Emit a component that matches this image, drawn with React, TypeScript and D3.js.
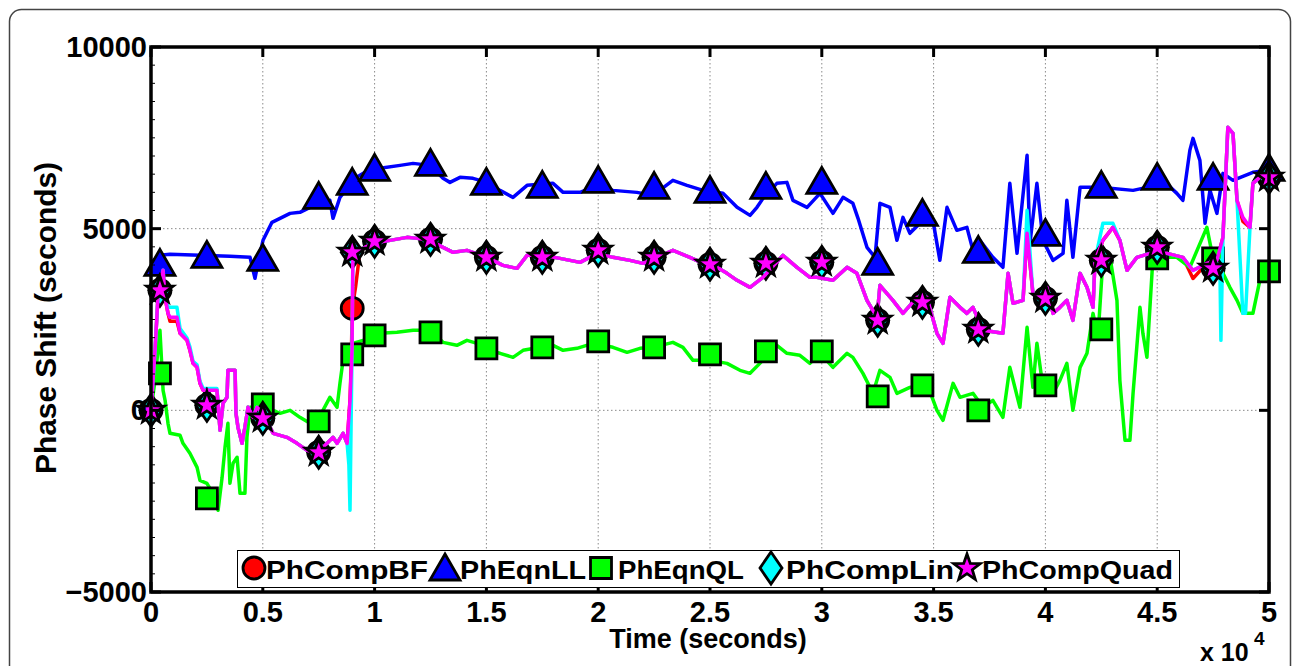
import React from "react";
import * as d3 from "d3";

type Pt = [number, number];

// time axis ticks (seconds) and labels (x 10^4)
const timeTicks = [0, 5000, 10000, 15000, 20000, 25000, 30000, 35000, 40000, 45000, 50000];
const timeTickLabels = ["0", "0.5", "1", "1.5", "2", "2.5", "3", "3.5", "4", "4.5", "5"];
const valueTicks = [-5000, 0, 5000, 10000];
const valueTickLabels = ["\u22125000", "0", "5000", "10000"];

// times where markers are drawn
const markerTimes = [0, 400, 2500, 5000, 7500, 9000, 10000, 12500, 15000, 17500, 20000, 22500, 25000, 27500, 30000, 32500, 34500, 37000, 40000, 42500, 45000, 47500, 50000];

const bfMarkers = [0, 3302, 138, -220, -1156, 2807, 4651, 4706, 4211, 4211, 4403, 4211, 4018, 4045, 4073, 2477, 2972, 2229, 3082, 4128, 4486, 3908, 6412];
const llMarkers = [null, 4045, 4266, 4183, 5889, 6274, 6660, 6797, 6274, 6192, 6330, 6164, 6054, 6164, 6302, 4073, 5420, 4403, 4871, 6192, 6412, 6412, 6660];
const qlMarkers = [null, 1018, -2422, 165, -303, 1541, 2064, 2147, 1706, 1734, 1899, 1734, 1541, 1624, 1624, 385, 688, 0, 688, 2229, 4183, 4183, 3825];
const linMarkers = [0, 3302, 138, -220, -1156, 4348, 4651, 4706, 4211, 4211, 4403, 4211, 4018, 4045, 4073, 2477, 2972, 2229, 3082, 4128, 4486, 3908, 6412];
const quadMarkers = [0, 3302, 138, -220, -1156, 4348, 4651, 4706, 4211, 4211, 4403, 4211, 4018, 4045, 4073, 2477, 2972, 2229, 3082, 4128, 4486, 3908, 6412];

const phEqnLL: Pt[] = [[0,4073],[400,4266],[850,4293],[2190,4266],[3530,4238],[4430,4211],[4650,3633],[4790,4073],[5010,4679],[5410,5174],[6220,5421],[6660,5449],[7560,5724],[8000,5779],[8140,5284],[8450,5862],[9120,6385],[9570,6550],[10240,6660],[11140,6742],[11720,6797],[12480,6742],[13060,6385],[13370,6274],[13820,6412],[14400,6385],[15030,6274],[15610,6054],[16190,5862],[16820,6192],[17980,6247],[18430,5999],[19190,5999],[19950,6192],[20660,6054],[21730,5999],[22450,5917],[23340,6330],[23970,6192],[24690,6054],[25580,5972],[26210,5587],[26790,5366],[27100,5587],[27370,5834],[27990,6247],[28440,6274],[28710,5779],[29340,5587],[29920,5972],[30500,5421],[30950,5862],[31390,5697],[31620,5284],[32020,4486],[32380,4211],[32600,5697],[33050,5587],[33360,4679],[33630,5311],[33940,4871],[34390,5146],[34970,5229],[35280,4128],[35600,5587],[36040,4954],[36490,5036],[36760,4403],[37070,4678],[37650,4211],[38100,3935],[38410,6247],[38730,4321],[39180,7018],[39310,4596],[39620,6247],[39890,4679],[40340,4128],[40790,4321],[40960,5779],[41230,4211],[41550,6137],[42440,6137],[43920,6054],[44540,6137],[45120,6412],[45880,5972],[46150,5779],[46460,7155],[46600,7485],[46910,6880],[47140,5146],[47360,6054],[47670,5421],[47940,6522],[48390,6330],[49280,6550],[50000,6605]];

const phEqnQL: Pt[] = [[0,0],[180,826],[400,2202],[540,550],[630,275],[760,-358],[850,-633],[1300,-688],[1430,-908],[1740,-1183],[2060,-1569],[2190,-1926],[2500,-2009],[2770,-2284],[3000,-2752],[3180,-1844],[3310,-1018],[3440,-358],[3530,-2009],[3670,-1459],[3850,-1293],[3980,-2284],[4200,-2284],[4290,-743],[4430,83],[4740,83],[5010,0],[5460,0],[5770,-83],[6220,0],[6660,-193],[7110,-358],[7420,-358],[7690,0],[8000,358],[8320,83],[8450,743],[8590,1376],[8770,1651],[9030,1844],[9480,1926],[10240,2119],[11000,2147],[11720,2202],[12480,2202],[13060,1871],[13680,1789],[14130,1926],[14580,1844],[15030,1651],[15610,1569],[16190,1459],[16640,1651],[17400,1734],[17980,1789],[18430,1651],[19050,1706],[19770,1844],[20660,1734],[21290,1596],[21870,1706],[22450,1734],[23340,1871],[23790,1734],[24240,1376],[25000,1376],[25760,1293],[26340,1101],[26790,1018],[27230,1293],[27990,1789],[28440,1569],[29020,1514],[29470,1293],[29920,1569],[30500,1183],[31130,1569],[31390,1459],[31840,1018],[32290,468],[32600,1101],[33050,908],[33360,468],[33940,633],[34700,743],[35150,0],[35420,-275],[35870,743],[36180,358],[36760,468],[37210,83],[37650,275],[38100,-193],[38410,1183],[38860,83],[39180,2284],[39440,633],[39620,1844],[39890,633],[40340,468],[40650,826],[40960,1293],[41230,0],[41550,1183],[41860,1569],[42130,2669],[42350,2009],[42570,4128],[42890,4211],[43200,3027],[43330,826],[43560,-826],[43780,-826],[43920,468],[44230,2835],[44360,2119],[44540,1459],[44810,4211],[45440,4211],[45880,4211],[46460,3935],[47220,5036],[47490,4211],[47810,3935],[48250,3385],[48570,3027],[48830,2669],[49280,2669],[49590,3578],[50000,3853]];

const phCompQuad: Pt[] = [[0,0],[180,1651],[310,3110],[540,3853],[630,3110],[760,2669],[850,2559],[1160,2559],[1300,2119],[1610,1926],[1740,1651],[1880,1293],[2060,1183],[2190,743],[2330,550],[2950,550],[3090,-550],[3220,193],[3400,358],[3440,1101],[3760,1101],[3800,-83],[3890,-468],[4070,-908],[4200,-468],[4340,83],[4560,-193],[4740,83],[5010,-83],[5460,-633],[6080,-743],[6530,-908],[6980,-1101],[7420,-1183],[7870,-908],[8140,-743],[8320,-908],[8590,-633],[8770,-908],[8900,275],[8990,1651],[9030,4321],[9930,4596],[10690,4678],[11450,4761],[11900,4733],[12480,4678],[13060,4486],[13510,4348],[14130,4403],[15030,4211],[15740,3990],[16370,3908],[16820,4266],[17530,4266],[18290,4183],[19190,4073],[19950,4321],[20660,4211],[21420,4128],[22000,4045],[22630,4211],[23340,4403],[24100,4211],[24690,4045],[25310,3935],[25760,3770],[26210,3578],[26790,3385],[27370,3660],[28260,4266],[28890,3935],[29470,3660],[29780,3660],[30500,3578],[31130,3935],[31570,3770],[32020,3027],[32470,2559],[32600,3440],[33180,3027],[33630,2669],[34260,3110],[34700,3110],[35150,2119],[35420,1844],[35730,3110],[36180,2835],[36490,2669],[36760,2835],[37210,2202],[38100,2119],[38330,3770],[38550,2945],[39000,3027],[39180,4871],[39440,3220],[39760,3110],[40070,3385],[40340,2669],[40650,2835],[40960,3027],[41230,2477],[41550,3770],[41860,3385],[42130,2835],[42220,4128],[42570,4678],[43020,5036],[43330,4678],[43650,3853],[44090,4211],[44680,4321],[45440,4321],[46150,4211],[46600,3853],[47220,4045],[47670,4128],[47940,4761],[48160,7788],[48390,7623],[48570,5779],[48830,5311],[49150,5036],[49280,6247],[49590,6412],[50000,6522]];

const phCompBF: Pt[] = [[0,0],[180,1651],[310,3110],[540,3853],[630,3110],[760,2669],[850,2450],[1160,2450],[1300,2119],[1610,1926],[1740,1651],[1880,1293],[2060,1183],[2190,743],[2330,550],[2950,550],[3090,-550],[3220,193],[3400,358],[3440,1101],[3760,1101],[3800,-83],[3890,-468],[4070,-908],[4200,-468],[4340,83],[4560,-193],[4740,83],[5010,-83],[5460,-633],[6080,-743],[6530,-908],[6980,-1101],[7420,-1183],[7870,-908],[8140,-743],[8320,-908],[8590,-633],[8770,-908],[8900,275],[8950,1200],[9000,2807],[9150,3400],[9350,4400],[9930,4596],[10690,4678],[11450,4761],[11900,4733],[12480,4678],[13060,4486],[13510,4348],[14130,4403],[15030,4211],[15740,3990],[16370,3908],[16820,4266],[17530,4266],[18290,4183],[19190,4073],[19950,4321],[20660,4211],[21420,4128],[22000,4045],[22630,4211],[23340,4403],[24100,4211],[24690,4045],[25310,3935],[25760,3770],[26210,3578],[26790,3385],[27370,3660],[28260,4266],[28890,3935],[29470,3660],[29780,3660],[30500,3578],[31130,3935],[31570,3770],[32020,3027],[32470,2559],[32600,3440],[33180,3027],[33630,2669],[34260,3110],[34700,3110],[35150,2119],[35420,1844],[35730,3110],[36180,2835],[36490,2669],[36760,2835],[37210,2202],[38100,2119],[38330,3770],[38550,2945],[39000,3027],[39180,4871],[39440,3220],[39760,3110],[40070,3385],[40340,2669],[40650,2835],[40960,3027],[41230,2477],[41550,3770],[41860,3385],[42130,2835],[42220,4128],[42570,4678],[43020,5036],[43330,4678],[43650,3853],[44090,4211],[44680,4321],[45440,4321],[46150,4211],[46600,3630],[47220,4045],[47670,4128],[47940,4761],[48160,7788],[48390,7623],[48570,5779],[48830,5200],[49150,5036],[49280,6247],[49590,6412],[50000,6522]];

const phCompLin: Pt[] = [[0,0],[180,1651],[310,3110],[540,3853],[630,3110],[760,2835],[850,2835],[1160,2835],[1300,2250],[1610,1990],[1740,1750],[1880,1350],[2060,1250],[2190,800],[2330,600],[2950,600],[3090,-550],[3220,193],[3400,358],[3440,1101],[3760,1101],[3800,-83],[3890,-468],[4070,-908],[4200,-468],[4340,83],[4560,-193],[4740,83],[5010,-83],[5460,-633],[6080,-743],[6530,-908],[6980,-1101],[7420,-1183],[7870,-908],[8140,-743],[8320,-908],[8590,-633],[8770,-908],[8850,-1500],[8900,-2752],[8990,1651],[9030,4321],[9930,4596],[10690,4678],[11450,4761],[11900,4733],[12480,4678],[13060,4486],[13510,4348],[14130,4403],[15030,4211],[15740,3990],[16370,3908],[16820,4266],[17530,4266],[18290,4183],[19190,4073],[19950,4321],[20660,4211],[21420,4128],[22000,4045],[22630,4211],[23340,4403],[24100,4211],[24690,4045],[25310,3935],[25760,3770],[26210,3578],[26790,3385],[27370,3660],[28260,4266],[28890,3935],[29470,3660],[29780,3660],[30500,3578],[31130,3935],[31570,3770],[32020,3027],[32470,2559],[32600,3440],[33180,3027],[33630,2669],[34260,3110],[34700,3110],[35150,2119],[35420,1844],[35730,3110],[36180,2835],[36490,2669],[36760,2835],[37210,2202],[38100,2119],[38330,3770],[38550,2945],[39000,3027],[39180,5504],[39440,3220],[39760,3110],[40070,3385],[40340,2669],[40650,2835],[40960,3027],[41230,2477],[41550,3770],[41860,3385],[42130,2835],[42220,4128],[42570,5146],[43020,5146],[43330,4678],[43650,3853],[44090,4211],[44680,4321],[45440,4321],[46150,4211],[46600,3853],[47220,4045],[47670,4128],[47800,4128],[47850,1926],[47940,4761],[48160,7788],[48390,7623],[48570,5779],[48830,2669],[48950,2669],[49150,5036],[49280,6247],[49590,6412],[50000,6522]];

const seriesNames = ["PhCompBF", "PhEqnLL", "PhEqnQL", "PhCompLin", "PhCompQuad"];
const seriesColors = ["#ff0000", "#0000ff", "#00ff00", "#00ffff", "#ff00ff"];
const seriesShapes = ["circle", "triangle", "square", "diamond", "star"];
const seriesLines = [phCompBF, phEqnLL, phEqnQL, phCompLin, phCompQuad];
const seriesMarkers = [bfMarkers, llMarkers, qlMarkers, linMarkers, quadMarkers];

const W = 1292;
const H = 666;
const plot = { left: 151, right: 1269, top: 47, bottom: 592 };
const font = "'Liberation Sans', Arial, Helvetica, sans-serif";

function markerPath(shape: string, cx: number, cy: number): string {
  if (shape === "circle") {
    const r = 11;
    return `M${cx - r},${cy}a${r},${r} 0 1,0 ${2 * r},0a${r},${r} 0 1,0 ${-2 * r},0Z`;
  }
  if (shape === "triangle") {
    return `M${cx},${cy - 14}L${cx + 15},${cy + 12}L${cx - 15},${cy + 12}Z`;
  }
  if (shape === "square") {
    const s = 10.5;
    return `M${cx - s},${cy - s}H${cx + s}V${cy + s}H${cx - s}Z`;
  }
  if (shape === "diamond") {
    return `M${cx},${cy - 16}L${cx + 11},${cy}L${cx},${cy + 16}L${cx - 11},${cy}Z`;
  }
  // star
  const R = 14;
  const r = 5.6;
  const pts = d3.range(10).map((i) => {
    const a = -Math.PI / 2 + (i * Math.PI) / 5;
    const rad = i % 2 === 0 ? R : r;
    return [cx + rad * Math.cos(a), cy + rad * Math.sin(a)];
  });
  return "M" + pts.map((p) => p.join(",")).join("L") + "Z";
}

export default function App() {
  const x = d3.scaleLinear().domain([0, 50000]).range([plot.left, plot.right]);
  const y = d3.scaleLinear().domain([-5000, 10000]).range([plot.bottom, plot.top]);
  const line = d3
    .line<Pt>()
    .x((d) => x(d[0]))
    .y((d) => y(d[1]));
  const minorTicks = d3.range(-5000, 10001, 500);

  const legendItems = [
    { sx: 254, tx: 266, tw: 162 },
    { sx: 445, tx: 460, tw: 126 },
    { sx: 601, tx: 618, tw: 126 },
    { sx: 771, tx: 786, tw: 168 },
    { sx: 967, tx: 982, tw: 191 },
  ];

  return (
    <svg
      width={W}
      height={H}
      viewBox={`0 0 ${W} ${H}`}
      style={{ position: "fixed", left: 0, top: 0, background: "#fff" }}
    >
      <rect x={9.5} y={9.5} width={1281} height={720} rx={12} fill="none" stroke="#444" strokeWidth={1.5} />

      {/* grid */}
      <g stroke="#8a8a8a" strokeWidth={1} strokeDasharray="1.5,2.5">
        {timeTicks.slice(1, -1).map((t) => (
          <line key={`gx-${t}`} x1={x(t)} x2={x(t)} y1={plot.top} y2={plot.bottom} />
        ))}
        {valueTicks.slice(1, -1).map((v) => (
          <line key={`gy-${v}`} x1={plot.left} x2={plot.right} y1={y(v)} y2={y(v)} />
        ))}
      </g>

      {/* series: line then markers, in plotting order */}
      {seriesLines.map((data, i) => (
        <g key={seriesNames[i]}>
          <path d={line(data) || ""} fill="none" stroke={seriesColors[i]} strokeWidth={3.5} strokeLinejoin="round" />
          {markerTimes.map((t, j) => {
            const v = seriesMarkers[i][j];
            if (v === null) return null;
            return (
              <path
                key={`m-${i}-${j}`}
                d={markerPath(seriesShapes[i], x(t), y(v))}
                fill={seriesColors[i]}
                stroke="#000"
                strokeWidth={2.8}
                strokeLinejoin="miter"
              />
            );
          })}
        </g>
      ))}

      {/* axes box */}
      <rect
        x={plot.left}
        y={plot.top}
        width={plot.right - plot.left}
        height={plot.bottom - plot.top}
        fill="none"
        stroke="#000"
        strokeWidth={3.5}
      />
      <g stroke="#000" strokeWidth={3}>
        {timeTicks.map((t) => (
          <g key={`tx-${t}`}>
            <line x1={x(t)} x2={x(t)} y1={plot.bottom} y2={plot.bottom - 10} />
            <line x1={x(t)} x2={x(t)} y1={plot.top} y2={plot.top + 10} />
          </g>
        ))}
        {valueTicks.map((v) => (
          <g key={`ty-${v}`}>
            <line x1={plot.left} x2={plot.left + 10} y1={y(v)} y2={y(v)} />
            <line x1={plot.right} x2={plot.right - 10} y1={y(v)} y2={y(v)} />
          </g>
        ))}
      </g>
      <g stroke="#000" strokeWidth={1}>
        {minorTicks.map((v) => (
          <line key={`mn-${v}`} x1={plot.left} x2={plot.left + 4} y1={y(v)} y2={y(v)} />
        ))}
      </g>

      {/* tick labels */}
      <g fontFamily={font} fontWeight="bold" fontSize={29} fill="#000">
        {timeTicks.map((t, i) => (
          <text key={`lx-${t}`} x={x(t)} y={622} textAnchor="middle">
            {timeTickLabels[i]}
          </text>
        ))}
        {valueTicks.map((v, i) => (
          <text key={`ly-${v}`} x={147} y={y(v) + 10} textAnchor="end">
            {valueTickLabels[i]}
          </text>
        ))}
        <text x={708} y={648} textAnchor="middle" fontSize={27}>
          Time (seconds)
        </text>
        <text x={1200} y={661} fontSize={25}>
          x 10
        </text>
        <text x={1254} y={645} fontSize={19}>
          4
        </text>
        <text
          transform="translate(56,318) rotate(-90)"
          textAnchor="middle"
          textLength={312}
          lengthAdjust="spacingAndGlyphs"
        >
          Phase Shift (seconds)
        </text>
      </g>

      {/* legend */}
      <g>
        <rect x={237.5} y={550.5} width={942} height={37} fill="#fff" stroke="#000" strokeWidth={1} />
        {legendItems.map((it, i) => (
          <g key={`lg-${i}`}>
            <path
              d={markerPath(seriesShapes[i], it.sx, 568)}
              fill={seriesColors[i]}
              stroke="#000"
              strokeWidth={2.8}
            />
            <text
              x={it.tx}
              y={579}
              fontFamily={font}
              fontWeight="bold"
              fontSize={26}
              textLength={it.tw}
              lengthAdjust="spacingAndGlyphs"
            >
              {seriesNames[i]}
            </text>
          </g>
        ))}
      </g>
    </svg>
  );
}
